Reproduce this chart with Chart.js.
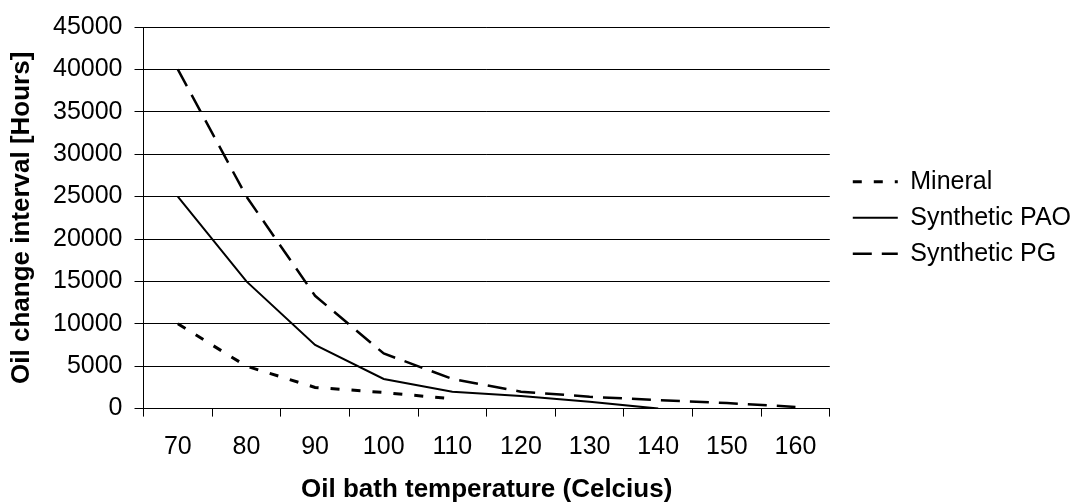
<!DOCTYPE html>
<html>
<head>
<meta charset="utf-8">
<script src="https://cdn.jsdelivr.net/npm/chart.js@4"></script>
<style>
  html, body { margin: 0; padding: 0; background: #fff; }
  #wrap { width: 1074px; height: 502px; }
</style>
</head>
<body>
<div id="wrap"><canvas id="myChart" width="1074" height="502"></canvas></div>
<script>
// chart data
const temps = ["70", "80", "90", "100", "110", "120", "130", "140", "150", "160"];
const mineral = [10000, 5000, 2500, 1900, 1150, null, null, null, null, null];
const syntheticPAO = [25000, 15000, 7500, 3500, 2000, 1500, 800, 0, null, null];
const syntheticPG = [40000, 25000, 13300, 6500, 3500, 2000, 1400, 1000, 650, 200];
const yTicks = { min: 0, max: 45000, step: 5000 };

const fontFamily = "'Liberation Sans', Arial, sans-serif";

// nudge legend to the right so there's a gap after the plot area
const legendShift = {
  id: "legendShift",
  afterLayout(chart) {
    if (chart.legend) {
      chart.legend.left += 12;
      chart.legend.right += 12;
    }
  },
};

const ctx = document.getElementById("myChart").getContext("2d");
const myChart = new Chart(ctx, {
  type: "line",
  data: {
    labels: temps,
    datasets: [
      {
        label: "Mineral",
        data: mineral,
        borderColor: "#000",
        backgroundColor: "#000",
        borderWidth: 3,
        borderDash: [9, 12],
      },
      {
        label: "Synthetic PAO",
        data: syntheticPAO,
        borderColor: "#000",
        backgroundColor: "#000",
        borderWidth: 2,
      },
      {
        label: "Synthetic PG",
        data: syntheticPG,
        borderColor: "#000",
        backgroundColor: "#000",
        borderWidth: 2.5,
        borderDash: [19, 10],
      },
    ],
  },
  options: {
    responsive: false,
    animation: false,
    spanGaps: false,
    elements: {
      point: { radius: 0 },
      line: { tension: 0 },
    },
    layout: {
      padding: { left: 9, right: 5, top: 20, bottom: 0 },
    },
    plugins: {
      legend: {
        position: "right",
        fullSize: false,
        labels: {
          color: "#000",
          font: { family: fontFamily, size: 25 },
          usePointStyle: true,
          pointStyle: "line",
          pointStyleWidth: 45,
          padding: 11,
          generateLabels(chart) {
            const items = Chart.defaults.plugins.legend.labels.generateLabels(chart);
            items.forEach((item) => {
              const ds = chart.data.datasets[item.datasetIndex];
              item.lineDash = ds.borderDash || [];
              item.lineWidth = ds.borderWidth;
              item.strokeStyle = "#000";
            });
            return items;
          },
        },
      },
      tooltip: { enabled: false },
    },
    scales: {
      x: {
        offset: true,
        grid: {
          offset: true,
          drawOnChartArea: false,
          color: "#000",
          tickLength: 8,
          tickColor: "#000",
        },
        border: { color: "#000", width: 1 },
        ticks: {
          color: "#000",
          font: { family: fontFamily, size: 25, lineHeight: 1.2 },
          padding: 16,
          maxRotation: 0,
        },
        title: {
          display: true,
          text: "Oil bath temperature (Celcius)",
          color: "#000",
          font: { family: fontFamily, size: 26, weight: "bold", lineHeight: 0.9 },
          padding: { top: 0, bottom: 0 },
        },
      },
      y: {
        min: yTicks.min,
        max: yTicks.max,
        grid: {
          color: "#000",
          tickLength: 9,
          tickColor: "#000",
        },
        border: { color: "#000", width: 1 },
        ticks: {
          stepSize: yTicks.step,
          color: "#000",
          font: { family: fontFamily, size: 25 },
          padding: 12,
          callback: (value) => String(value),
        },
        title: {
          display: true,
          text: "Oil change interval [Hours]",
          color: "#000",
          font: { family: fontFamily, size: 26, weight: "bold", lineHeight: 1.0 },
          padding: { top: 0, bottom: 6 },
        },
      },
    },
  },
  plugins: [legendShift],
});
</script>
</body>
</html>
